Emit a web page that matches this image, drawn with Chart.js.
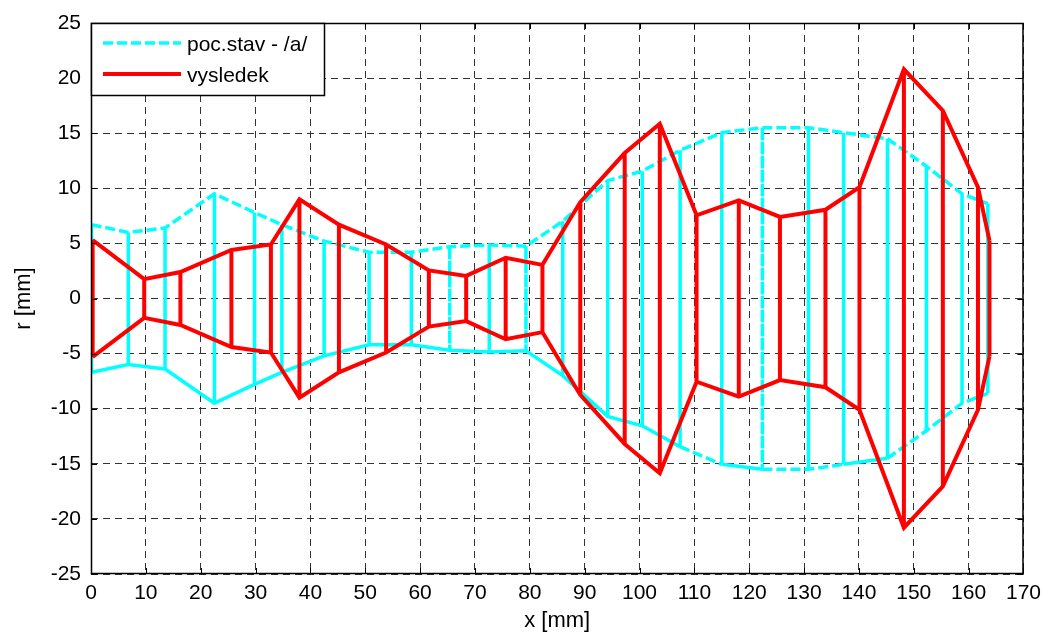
<!DOCTYPE html>
<html>
<head>
<meta charset="utf-8">
<title>r vs x</title>
<script src="https://cdn.jsdelivr.net/npm/chart.js@4.4.0/dist/chart.umd.min.js"></script>
<style>
  html, body { margin: 0; padding: 0; background: #fff; }
  #wrap { width: 1048px; height: 634px; }
</style>
</head>
<body>
<div id="wrap"><canvas id="profile" width="1048" height="634"></canvas></div>
<script>
// stations of the initial shape (poc.stav - /a/): position x and radius r [mm]
const initX = [0.1, 6.8, 13.5, 22.5, 29.8, 34.8, 42.5, 50.7, 58.4, 65.4, 72.6, 79.3,
               86.0, 94.2, 100.5, 107.4, 115.0, 122.4, 130.8, 137.2, 145.2, 152.3, 158.8, 163.5];
const initR = [6.7, 6.0, 6.4, 9.5, 7.8, 6.7, 5.2, 4.2, 4.2, 4.7, 4.85, 4.75,
               7.0, 10.7, 11.55, 13.45, 15.05, 15.5, 15.5, 15.05, 14.5, 12.0, 9.5, 8.6];

// stations of the result (vysledek)
const resultX = [0.3, 9.7, 16.3, 25.6, 32.8, 38.0, 45.2, 53.8, 61.6, 68.4, 75.6, 82.3,
                 89.2, 97.3, 103.7, 110.4, 118.1, 125.6, 133.9, 140.1, 148.2, 155.3, 161.7, 163.8];
const resultR = [5.3, 1.75, 2.4, 4.4, 4.9, 9.0, 6.7, 4.9, 2.55, 2.05, 3.7, 3.05,
                 8.75, 13.2, 15.85, 7.55, 8.9, 7.4, 8.05, 10.1, 20.8, 17.05, 10.1, 5.25];

const xTicks = [0, 10, 20, 30, 40, 50, 60, 70, 80, 90, 100, 110, 120, 130, 140, 150, 160, 170];
const yTicks = [-25, -20, -15, -10, -5, 0, 5, 10, 15, 20, 25];

const seriesNames = ['poc.stav - /a/', 'vysledek'];

// which pieces of the cyan outline come out dashed (1) or solid (0)
const initTopDash    = [1,1,1,1,1,1,1,1,1,1,1,1,1,1,1,1,1,1,1,1,1,1,1];
const initBottomDash = [0,0,0,0,0,0,0,0,0,0,0,0,0,0,0,1,0,1,1,0,1,1,1];
const initVertDash   = [0,0,0,0,0,1,1,0,0,1,0,1,0,0,0,1,1,1,0,1,1,0,0,1];

const CYAN = '#00ffff';
const RED = '#ff0000';
const DASH = [10, 4];
const FONT = '"Liberation Sans", Arial, Helvetica, sans-serif';

// upper contour, lower contour, then one vertical per station; NaN breaks the line
function buildOutline(xs, rs, topDash, bottomDash, vertDash) {
  const pts = [];
  const dashed = [];
  const gap = () => { pts.push({x: NaN, y: NaN}); dashed.push(0); };

  xs.forEach((x, i) => { pts.push({x: x, y: rs[i]}); dashed.push(topDash ? topDash[i] || 0 : 0); });
  gap();
  xs.forEach((x, i) => { pts.push({x: x, y: -rs[i]}); dashed.push(bottomDash ? bottomDash[i] || 0 : 0); });
  gap();
  xs.forEach((x, i) => {
    pts.push({x: x, y: rs[i]});
    dashed.push(vertDash ? vertDash[i] : 0);
    pts.push({x: x, y: -rs[i]});
    dashed.push(0);
    gap();
  });
  return {pts, dashed};
}

const initShape = buildOutline(initX, initR, initTopDash, initBottomDash, initVertDash);
const resultShape = buildOutline(resultX, resultR);

// frame with inward ticks on all four sides, plus the boxed legend top-left
const framePlugin = {
  id: 'frame',
  afterDatasetsDraw(chart) {
    const {ctx, chartArea: a, scales} = chart;
    const xs = scales.x, ys = scales.y;
    ctx.save();
    ctx.setLineDash([]);
    ctx.strokeStyle = '#000';
    ctx.lineWidth = 1;

    ctx.beginPath();
    xTicks.forEach(v => {
      const px = Math.round(xs.getPixelForValue(v)) + 0.5;
      ctx.moveTo(px, a.bottom); ctx.lineTo(px, a.bottom - 6);
      ctx.moveTo(px, a.top); ctx.lineTo(px, a.top + 6);
    });
    yTicks.forEach(v => {
      const py = Math.round(ys.getPixelForValue(v)) + 0.5;
      ctx.moveTo(a.left, py); ctx.lineTo(a.left + 6, py);
      ctx.moveTo(a.right, py); ctx.lineTo(a.right - 6, py);
    });
    ctx.stroke();
    ctx.lineWidth = 1.5;
    ctx.strokeRect(a.left + 0.5, a.top + 0.5, a.right - a.left - 1, a.bottom - a.top - 1);

    // legend
    const lx = a.left, ly = a.top, lw = 233, lh = 72;
    ctx.fillStyle = '#fff';
    ctx.fillRect(lx, ly, lw, lh);
    ctx.strokeRect(lx + 0.5, ly + 0.5, lw, lh);

    ctx.lineWidth = 3.5;
    ctx.strokeStyle = CYAN;
    ctx.setLineDash(DASH);
    ctx.beginPath(); ctx.moveTo(lx + 12, ly + 20); ctx.lineTo(lx + 90, ly + 20); ctx.stroke();

    ctx.lineWidth = 4;
    ctx.strokeStyle = RED;
    ctx.setLineDash([]);
    ctx.beginPath(); ctx.moveTo(lx + 12, ly + 51); ctx.lineTo(lx + 90, ly + 51); ctx.stroke();

    ctx.fillStyle = '#000';
    ctx.font = '21px ' + FONT;
    ctx.textBaseline = 'alphabetic';
    ctx.textAlign = 'left';
    ctx.fillText(seriesNames[0], lx + 96, ly + 28);
    ctx.fillText(seriesNames[1], lx + 96, ly + 59);
    ctx.restore();
  }
};

const gridOpts = {
  color: '#333',
  lineWidth: 1,
  drawTicks: false
};

new Chart(document.getElementById('profile'), {
  type: 'scatter',
  data: {
    datasets: [
      {
        label: seriesNames[0],
        data: initShape.pts,
        showLine: true,
        borderColor: CYAN,
        backgroundColor: CYAN,
        borderWidth: 3.5,
        borderJoinStyle: 'miter',
        pointRadius: 0,
        pointHoverRadius: 0,
        spanGaps: false,
        order: 2,
        segment: {
          borderDash: ctx => initShape.dashed[ctx.p0DataIndex] ? DASH : []
        }
      },
      {
        label: seriesNames[1],
        data: resultShape.pts,
        showLine: true,
        borderColor: RED,
        backgroundColor: RED,
        borderWidth: 4,
        borderJoinStyle: 'miter',
        pointRadius: 0,
        pointHoverRadius: 0,
        spanGaps: false,
        order: 1
      }
    ]
  },
  options: {
    responsive: false,
    devicePixelRatio: 1,
    animation: false,
    events: [],
    layout: { padding: { top: 23, right: 21, left: 0, bottom: 0 } },
    plugins: {
      legend: { display: false },
      tooltip: { enabled: false }
    },
    scales: {
      x: {
        type: 'linear',
        min: 0,
        max: 170,
        afterBuildTicks: s => { s.ticks = xTicks.map(v => ({value: v})); },
        afterFit: s => { s.height = 60; },
        grid: gridOpts,
        border: { display: false, dash: [7, 5] },
        ticks: { color: '#000', padding: 7, maxRotation: 0, autoSkip: false, font: { family: FONT, size: 21 } },
        title: { display: true, text: 'x [mm]', color: '#000', padding: { top: 0, bottom: 0 }, font: { family: FONT, size: 22 } }
      },
      y: {
        type: 'linear',
        min: -25,
        max: 25,
        afterBuildTicks: s => { s.ticks = yTicks.map(v => ({value: v})); },
        afterFit: s => { s.width = 91; },
        grid: gridOpts,
        border: { display: false, dash: [7, 5] },
        ticks: { color: '#000', padding: 10, autoSkip: false, font: { family: FONT, size: 21 } },
        title: { display: true, text: 'r [mm]', color: '#000', padding: { top: 11, bottom: 0 }, font: { family: FONT, size: 22 } }
      }
    }
  },
  plugins: [framePlugin]
});
</script>
</body>
</html>
